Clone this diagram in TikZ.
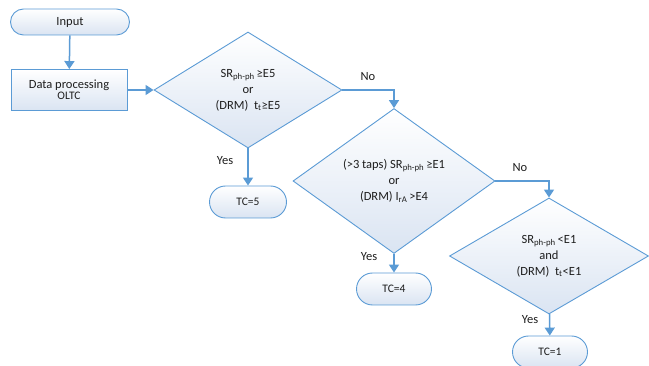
\documentclass[tikz,border=0pt]{standalone}
\usepackage{fontspec}
\setmainfont{Carlito}
\usetikzlibrary{shapes.geometric,arrows.meta}
\definecolor{bl}{RGB}{91,155,213}
\definecolor{fillb}{RGB}{218,228,242}
\definecolor{txt}{RGB}{30,30,30}
\tikzset{
  base/.style={draw=bl, line width=0.9pt, top color=white, bottom color=fillb, text=txt, inner sep=0pt, align=center},
  term/.style={base, rectangle, rounded corners=#1, minimum height=2*#1},
  procbox/.style={base, rectangle},
  dec/.style={base, diamond, font=\fontsize{12.5}{16}\selectfont},
  conn/.style={draw=bl, line width=1.5pt, -{Triangle[width=10pt,length=8pt]}},
  lab/.style={text=txt, font=\fontsize{12.5}{14}\selectfont}
}
\begin{document}
\begin{tikzpicture}[x=1pt,y=-1pt]
\useasboundingbox (0,0) rectangle (649,366);
\node[term=13, minimum width=119, font=\fontsize{12.5}{14}\selectfont] (in) at (70,22) {Input};
\node[procbox, minimum width=116, minimum height=41] (dp) at (69,90) {\fontsize{12.5}{14}\selectfont Data processing\\[-1pt]\fontsize{11.5}{13}\selectfont OLTC};
\node[dec, minimum width=188, minimum height=116] (d1) at (248,90) {SR\textsubscript{ph-ph}\hspace{2pt}≥E5\\or\\(DRM)\ \ t\textsubscript{t}≥E5};
\node[term=16, minimum width=77, font=\fontsize{11.5}{13}\selectfont] (t5) at (248,202) {TC=5};
\node[dec, minimum width=202, minimum height=115] (d2) at (394,181) {(>3 taps) SR\textsubscript{ph-ph}\hspace{2pt}≥E1\\or\\(DRM) I\textsubscript{rA}\hspace{2pt}>E4};
\node[term=16, minimum width=75, font=\fontsize{11.5}{13}\selectfont] (t4) at (394,289) {TC=4};
\node[dec, minimum width=199, minimum height=116] (d3) at (549,256) {SR\textsubscript{ph-ph}\hspace{2pt}<E1\\and\\(DRM)\ \ t\textsubscript{t}<E1};
\node[term=16, minimum width=75, font=\fontsize{11.5}{13}\selectfont] (t1) at (550,352) {TC=1};
\draw[conn] (in) -- (dp);
\draw[conn] (dp) -- (d1);
\draw[conn] (d1) -- (t5);
\draw[conn] (d1.east) -| (d2.north);
\draw[conn] (d2) -- (t4);
\draw[conn] (d2.east) -| (d3.north);
\draw[conn] (d3) -- (t1);
\node[lab] (y1) at (225,161) {Yes};
\node[lab] (n1) at (368,77) {No};
\node[lab] (y2) at (369,257) {Yes};
\node[lab] (n2) at (520,168) {No};
\node[lab] (y3) at (530,320) {Yes};
\end{tikzpicture}
\end{document}
